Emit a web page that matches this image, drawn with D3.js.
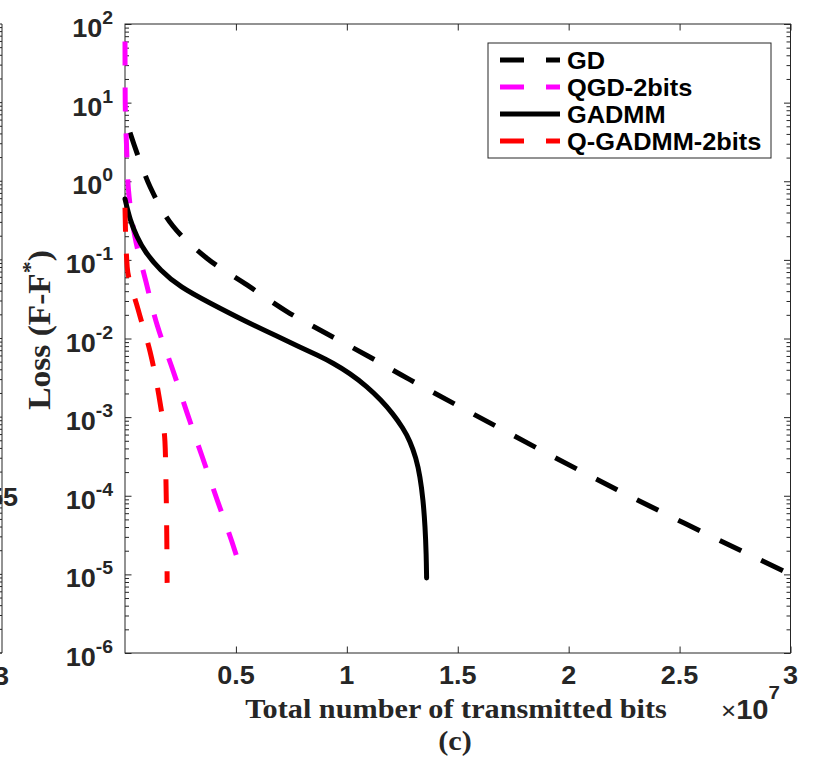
<!DOCTYPE html>
<html>
<head>
<meta charset="utf-8">
<script src="https://cdn.jsdelivr.net/npm/d3@7"></script>
<style>
  html, body { margin: 0; padding: 0; background: #fff; }
  svg { display: block; }
</style>
</head>
<body>
<svg id="chart" width="818" height="762"></svg>
<script>
// ---------------- data (x in bits, y = loss F-F*) ----------------
const seriesNames = ["GD", "QGD-2bits", "GADMM", "Q-GADMM-2bits"];

const gdBits   = [0.0225e7, 0.113e7, 0.216e7, 0.369e7, 0.55e7, 0.73e7, 0.91e7, 1.095e7, 1.284e7, 2.216e7, 3.0e7];
const gdLoss   = [4.17, 0.85, 0.27, 0.105, 0.048, 0.022, 0.0115, 0.006, 0.003, 1.2e-4, 1.0e-5];

const qgdBits  = [0, 0.001e7, 0.007e7, 0.016e7, 0.045e7, 0.095e7, 0.146e7, 0.214e7, 0.279e7, 0.347e7, 0.414e7, 0.482e7, 0.53e7];
const qgdLoss  = [60, 10, 2.8, 0.76, 0.195, 0.052, 0.0145, 0.0041, 0.00115, 3.2e-4, 9.1e-5, 2.6e-5, 9.8e-6];

const gadmmBits = [0, 0.0225e7, 0.054e7, 0.090e7, 0.158e7, 0.248e7, 0.383e7, 0.532e7, 0.685e7, 0.789e7, 0.870e7, 0.938e7,
                   1.0143e7, 1.091e7, 1.154e7, 1.208e7, 1.253e7, 1.285e7, 1.312e7, 1.330e7, 1.344e7, 1.353e7, 1.358e7, 1.3596e7];
const gadmmLoss = [0.594, 0.321, 0.195, 0.126, 0.0741, 0.0451, 0.0282, 0.0171, 0.0107, 0.00778, 0.00608, 0.00488,
                   0.00359, 0.00245, 0.00165, 0.00110, 7.28e-4, 4.97e-4, 3.02e-4, 1.78e-4, 8.83e-5, 4.01e-5, 1.76e-5, 8.99e-6];

const qgadmmBits = [0, 0.01e7, 0.059e7, 0.113e7, 0.153e7, 0.18e7, 0.185e7, 0.188e7, 0.19e7];
const qgadmmLoss = [0.46, 0.081, 0.0234, 0.0068, 0.00186, 4.9e-4, 1.35e-4, 3.7e-5, 7.8e-6];

const xTickValues = [0.5e7, 1e7, 1.5e7, 2e7, 2.5e7, 3e7];
const xTickLabels = ["0.5", "1", "1.5", "2", "2.5", "3"];
const yTickExponents = [2, 1, 0, -1, -2, -3, -4, -5, -6];

// ---------------- layout ----------------
const svg = d3.select("#chart");
const L = 125, R = 790.5, T = 24, B = 653;
const SANS = "'Liberation Sans', Arial, Helvetica, sans-serif";
const SERIF = "'Liberation Serif', 'Times New Roman', serif";
const AX = "#262626";
const SX = 1.08;

const x = d3.scaleLinear().domain([0, 3e7]).range([L, R]);
const y = d3.scaleLog().domain([1e-6, 1e2]).range([B, T]);

// ---------- remnant of neighbouring subplot on the left ----------
const rem = svg.append("g");
rem.append("line").attr("x1", 2).attr("x2", 2).attr("y1", T).attr("y2", B)
  .attr("stroke", AX).attr("stroke-width", 1);
rem.append("line").attr("x1", 0).attr("x2", 2).attr("y1", T).attr("y2", T)
  .attr("stroke", AX).attr("stroke-width", 1);
rem.append("line").attr("x1", 0).attr("x2", 2).attr("y1", B).attr("y2", B)
  .attr("stroke", AX).attr("stroke-width", 1);
const remTicks = [];
for (let d = -6; d < 2; d++) for (let k = 1; k < 10; k++) remTicks.push(k * Math.pow(10, d));
rem.selectAll("line.rt").data(remTicks).enter().append("line")
  .attr("x1", 0).attr("x2", 2)
  .attr("y1", d => y(d)).attr("y2", d => y(d))
  .attr("stroke", AX).attr("stroke-width", 1);
rem.append("text").attr("transform", `translate(18,506) scale(${SX},1)`)
  .attr("text-anchor", "end").attr("font-family", SANS).attr("font-weight", "bold")
  .attr("font-size", 25).attr("fill", AX).text("55");
rem.append("text").attr("transform", `translate(9,685) scale(${SX},1)`)
  .attr("text-anchor", "end").attr("font-family", SANS).attr("font-weight", "bold")
  .attr("font-size", 25).attr("fill", AX).text("3");

// ---------------- axes ----------------
const yMinor = [];
for (let d = -6; d < 2; d++) for (let k = 2; k < 10; k++) yMinor.push(k * Math.pow(10, d));
const yMajor = yTickExponents.map(e => Math.pow(10, e));

function styleAxis(g) {
  g.select(".domain").remove();
  g.selectAll(".tick line").attr("stroke", AX).attr("stroke-width", 1);
  g.selectAll(".tick text").remove();
}

svg.append("g").attr("transform", `translate(${L},0)`)
  .call(d3.axisLeft(y).tickValues(yMajor).tickSize(-6.5).tickFormat("")).call(styleAxis);
svg.append("g").attr("transform", `translate(${L},0)`)
  .call(d3.axisLeft(y).tickValues(yMinor).tickSize(-4).tickFormat("")).call(styleAxis);
svg.append("g").attr("transform", `translate(${R},0)`)
  .call(d3.axisRight(y).tickValues(yMajor).tickSize(-6.5).tickFormat("")).call(styleAxis);
svg.append("g").attr("transform", `translate(${R},0)`)
  .call(d3.axisRight(y).tickValues(yMinor).tickSize(-4).tickFormat("")).call(styleAxis);
svg.append("g").attr("transform", `translate(0,${B})`)
  .call(d3.axisBottom(x).tickValues(xTickValues).tickSize(-6.5).tickFormat("")).call(styleAxis);
svg.append("g").attr("transform", `translate(0,${T})`)
  .call(d3.axisTop(x).tickValues(xTickValues).tickSize(-6.5).tickFormat("")).call(styleAxis);

svg.append("rect").attr("x", L).attr("y", T).attr("width", R - L).attr("height", B - T)
  .attr("fill", "none").attr("stroke", AX).attr("stroke-width", 1);

// y tick labels
yTickExponents.forEach(e => {
  const t = svg.append("text")
    .attr("transform", `translate(113,${y(Math.pow(10, e)) + 13}) scale(${SX},1)`)
    .attr("text-anchor", "end").attr("font-family", SANS).attr("font-weight", "bold")
    .attr("fill", AX);
  t.append("tspan").attr("font-size", 25).text("10");
  t.append("tspan").attr("font-size", 18).attr("dy", -13).text(String(e));
});

// x tick labels
xTickValues.forEach((v, i) => {
  svg.append("text")
    .attr("transform", `translate(${x(v)},684) scale(${SX},1)`)
    .attr("text-anchor", "middle").attr("font-family", SANS).attr("font-weight", "bold")
    .attr("font-size", 25).attr("fill", AX).text(xTickLabels[i]);
});

// x10^7 multiplier
const mult = svg.append("text").attr("transform", `translate(721,719) scale(${SX},1)`)
  .attr("font-family", SANS).attr("fill", AX);
mult.append("tspan").attr("font-size", 24).text("\u00D7");
mult.append("tspan").attr("font-size", 27).attr("font-weight", "bold").text("10");
mult.append("tspan").attr("font-size", 19).attr("font-weight", "bold").attr("dy", -20).text("7");

// axis titles
svg.append("text").attr("transform", `translate(456,718) scale(1.1,1)`)
  .attr("text-anchor", "middle").attr("font-family", SERIF).attr("font-weight", "bold")
  .attr("font-size", 27.5).attr("fill", AX).text("Total number of transmitted bits");
svg.append("text").attr("transform", `translate(455,750) scale(1.1,1)`)
  .attr("text-anchor", "middle").attr("font-family", SERIF).attr("font-weight", "bold")
  .attr("font-size", 27.5).attr("fill", AX).text("(c)");

const yl = svg.append("text").attr("transform", `translate(50,330) rotate(-90) scale(${SX},1)`)
  .attr("text-anchor", "middle").attr("font-family", SERIF).attr("font-weight", "bold")
  .attr("font-size", 31).attr("fill", AX);
yl.append("tspan").text("Loss (F-F");
yl.append("tspan").attr("font-size", 22).attr("dy", -13).text("*");
yl.append("tspan").attr("dy", 13).text(")");

// ---------------- lines ----------------
const smooth = d3.curveCatmullRom.alpha(0.5);
const series = [
  { name: seriesNames[0], bits: gdBits, loss: gdLoss, color: "#000000", dash: "24,22", curve: smooth },
  { name: seriesNames[1], bits: qgdBits, loss: qgdLoss, color: "#ff00ff", dash: "24,22", curve: d3.curveMonotoneY },
  { name: seriesNames[2], bits: gadmmBits, loss: gadmmLoss, color: "#000000", dash: null, curve: d3.curveBasis },
  { name: seriesNames[3], bits: qgadmmBits, loss: qgadmmLoss, color: "#ff0000", dash: "24,22", curve: d3.curveMonotoneY }
];

series.forEach(s => {
  const pts = s.bits.map((b, i) => [b, s.loss[i]]);
  const line = d3.line().x(d => x(d[0])).y(d => y(d[1])).curve(s.curve);
  const p = svg.append("path").attr("d", line(pts))
    .attr("fill", "none").attr("stroke", s.color).attr("stroke-width", 5)
    .attr("stroke-linejoin", "round");
  if (s.dash) p.attr("stroke-dasharray", s.dash);
  else p.attr("stroke-linecap", "round");
});

// ---------------- legend ----------------
const lg = svg.append("g");
lg.append("rect").attr("x", 488).attr("y", 43).attr("width", 283).attr("height", 115)
  .attr("fill", "#fff").attr("stroke", AX).attr("stroke-width", 1);
series.forEach((s, i) => {
  const cy = 60 + i * 27;
  const ln = lg.append("line").attr("x1", 500).attr("x2", 560).attr("y1", cy).attr("y2", cy)
    .attr("stroke", s.color).attr("stroke-width", 5);
  if (s.dash) ln.attr("stroke-dasharray", s.dash);
  lg.append("text").attr("transform", `translate(567,${cy + 8.5}) scale(${SX},1)`)
    .attr("font-family", SANS).attr("font-weight", "bold").attr("font-size", 23.5)
    .attr("fill", "#000").text(s.name);
});
</script>
</body>
</html>
